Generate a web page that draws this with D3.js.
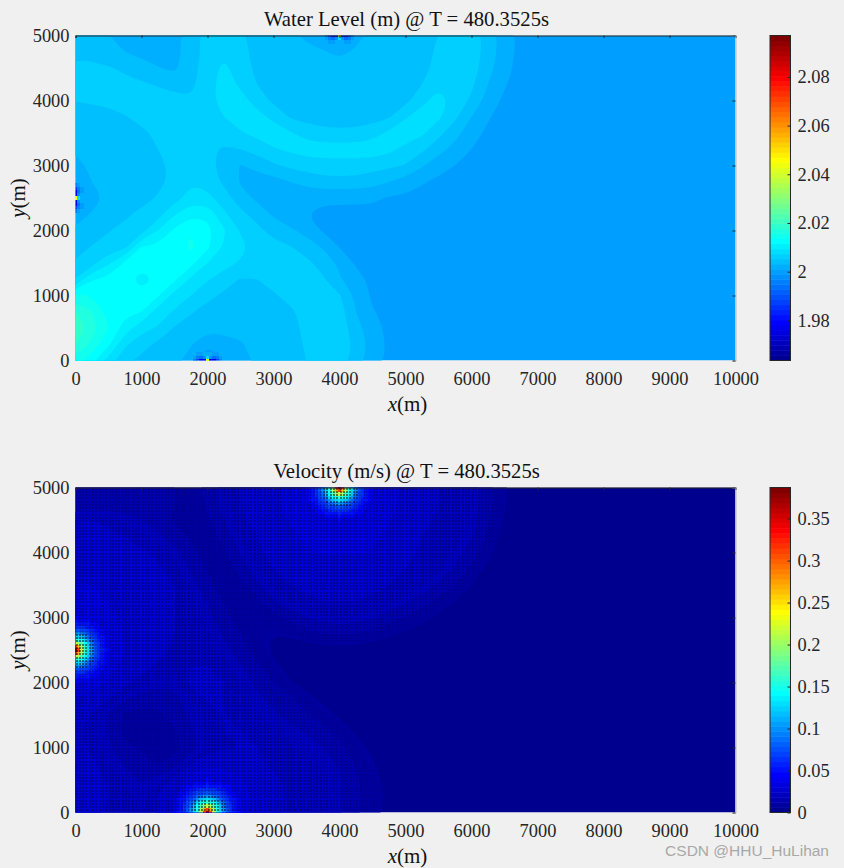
<!DOCTYPE html>
<html><head><meta charset="utf-8">
<script src="https://cdn.jsdelivr.net/npm/d3@7"></script>
<style>
html,body{margin:0;padding:0;background:#f0f0f0}
svg{display:block}
text{font-family:"Liberation Serif",serif;fill:#262626}
</style></head><body>
<svg id="c" width="844" height="868"></svg>
<script>
// ---- data ----
const xTicks=[0,1000,2000,3000,4000,5000,6000,7000,8000,9000,10000];
const yTicks=[0,1000,2000,3000,4000,5000];
const waterBarTicks=[1.98,2,2.02,2.04,2.06,2.08];
const speedBarTicks=[0,0.05,0.1,0.15,0.2,0.25,0.3,0.35];
const waterRange=[1.9635,2.097];
const speedRange=[0,0.387];
const gridSpacing=250;
const waterFlat=0.5, speedFlat=1;
// Water level, in colour steps above the level of the still right-hand region; rows run from y=5000 to y=0, columns from x=0 every 250 m
const waterRows=[
[2.5,2.3,2.0,1.7,1.5,1.5,1.7,2.6,3.4,3.5,3.1,2.8,2.6,2.5,1.6,1.3,0.5,1.5,2.5,2.6,2.6,2.7,3.0,3.6,3.5,2.7,1.5,0.8],
[2.7,2.5,2.3,2.0,1.7,1.5,1.6,2.6,3.3,3.6,3.2,2.8,2.6,2.6,2.5,2.1,1.7,2.2,2.6,2.6,2.6,2.8,3.1,3.6,3.5,2.6,1.4,0.7],
[3.3,3.3,3.1,2.8,2.4,2.05,1.8,2.7,3.4,4.3,3.4,2.8,2.6,2.5,2.5,2.5,2.5,2.5,2.5,2.5,2.6,2.8,3.2,3.8,3.5,2.4,1.3,0.7],
[3.3,3.4,3.4,3.3,3.15,2.9,2.6,2.8,3.5,4.5,3.8,3.0,2.6,2.5,2.5,2.5,2.5,2.5,2.5,2.5,2.5,3.0,3.8,3.8,3.2,2.0,1.1],
[3.05,3.2,3.3,3.4,3.5,3.5,3.4,3.1,3.6,4.5,4.5,3.5,2.8,2.5,2.5,2.5,2.5,2.5,2.5,2.5,2.7,3.7,4.4,3.7,2.8,1.6,0.8],
[2.2,2.4,2.6,2.95,3.3,3.5,3.6,3.6,3.7,4.0,4.5,4.4,3.7,2.9,2.6,2.5,2.5,2.5,2.5,2.9,3.9,4.5,4.2,3.2,2.0,1.1,0.6],
[2.2,2.2,2.3,2.5,2.8,3.2,3.5,3.6,3.6,3.8,3.9,4.3,4.6,4.1,3.6,3.3,3.2,3.3,3.6,4.2,4.6,4.2,3.3,2.4,1.4,0.8],
[2.2,2.2,2.2,2.3,2.6,3.0,3.3,3.4,3.3,2.8,3.0,3.4,3.9,4.2,4.5,4.5,4.5,4.5,4.6,4.3,3.7,3.2,2.4,1.6,1.0,0.6],
[1.7,2.2,2.2,2.2,2.4,2.8,3.2,3.4,3.3,2.6,1.95,2.3,2.85,3.2,3.4,3.6,3.6,3.6,3.4,3.2,2.95,2.1,1.4,1.0,0.6],
[1.0,2.0,2.2,2.2,2.4,2.8,3.2,3.9,3.6,2.8,1.9,1.5,1.6,2.0,2.4,2.6,2.7,2.6,2.4,2.0,1.6,1.1,0.8,0.6],
[0.2,1.6,2.2,2.3,2.6,3.1,3.6,4.4,4.3,3.5,2.4,1.8,1.5,1.3,1.2,1.15,1.2,1.2,1.2,0.9,0.8,0.65,0.55],
[1.5,2.1,2.4,2.8,3.3,3.6,4.9,5.8,5.8,4.2,3.3,2.6,1.85,1.3,1.0,0.8,0.75,0.7,0.65,0.6,0.55],
[2.2,2.5,2.95,3.3,3.6,5.0,6.2,6.9,6.3,5.1,3.9,3.3,2.6,2.2,1.6,0.9,0.7,0.6],
[2.4,3.05,3.3,3.7,6.0,6.2,6.4,7.3,6.2,4.9,4.3,3.6,3.4,3.05,2.6,1.85,0.95,0.7,0.55],
[3.2,3.6,4.8,6.2,6.4,6.3,6.2,6.3,5.0,4.3,3.9,3.6,3.5,3.4,3.2,2.7,1.8,0.85,0.6],
[4.0,5.9,6.3,6.4,5.6,6.2,6.2,4.8,4.1,3.6,2.9,3.0,3.3,3.3,3.3,3.1,2.1,1.4,0.75,0.55],
[7.5,6.8,6.4,6.3,6.3,6.1,4.6,4.0,3.3,2.8,2.5,2.6,2.9,3.3,3.4,3.4,3.1,1.8,0.8,0.55],
[9.0,8.0,6.7,6.3,6.0,4.5,3.9,3.1,2.6,2.4,2.4,2.4,2.5,2.8,3.4,3.6,3.5,2.0,1.1,0.6],
[10.2,8.6,7.0,5.5,4.4,3.9,2.9,2.5,2.4,2.3,2.3,2.3,2.3,2.4,3.4,3.7,3.7,2.3,1.5,0.7],
[9.0,7.7,6.2,4.2,3.3,2.8,2.5,2.1,1.0,1.6,1.9,2.3,2.3,2.4,3.2,3.6,3.7,2.7,1.6,0.8],
[7.8,6.3,4.6,3.2,2.8,2.5,2.4,1.5,0.2,1.0,1.5,2.3,2.4,2.6,3.0,3.6,3.7,2.5,1.5,0.8]
];
// Speed, in colour steps of the lower colour bar (1 = lowest band), same grid
const speedRows=[
[3,3,3,3,3,3,3,2.6,3.4,4.6,5,5.3,5.8,6.3,6.8,7.5,8,7.5,6.8,6.3,5.8,5.3,5,4.8,4.6,3.5,2.2,1.2],
[3.4,3.4,3.4,3.4,3.4,3.4,3,2.4,3.1,4.4,5,5.3,5.8,6.3,6.8,7.4,7.8,7.4,6.8,6.3,5.8,5.3,5,4.8,4.5,3.4,2.1,1.2],
[5,5,4.8,4.4,4,3.4,2.9,2.4,2.8,4,4.9,5.2,5.6,6.1,6.5,6.8,7,6.8,6.5,6.1,5.6,5.2,4.9,4.8,4.4,3.2,1.9,1.1],
[5.3,5.3,5.2,5,4.7,4.2,3.5,2.8,2.4,3.5,4.6,5,5.4,5.8,6.2,6.5,6.6,6.5,6.2,5.8,5.4,5,4.9,4.7,4.1,2.8,1.6],
[5.6,5.6,5.5,5.3,5.1,4.9,4.3,3.4,2.5,2.8,4.1,4.9,5.2,5.5,5.9,6.1,6.1,6.1,5.9,5.5,5.2,4.9,4.8,4.4,3.5,2.3,1.3],
[5.8,5.8,5.7,5.5,5.3,5.1,4.7,3.9,2.9,2.4,3.4,4.5,5,5.2,5.4,5.5,5.5,5.5,5.4,5.2,5,4.8,4.6,3.9,2.8,1.7,1.1],
[6.1,6,5.8,5.6,5.4,5.2,5,4.4,3.4,2.5,2.6,3.8,4.7,5,5.1,5.2,5.2,5.2,5.1,5,4.9,4.5,3.9,3,2,1.3],
[6.5,6.3,6,5.7,5.5,5.2,5,4.7,3.9,2.9,2.3,2.8,3.9,4.6,4.9,5,5,5,4.9,4.7,4.2,3.5,2.8,2,1.4],
[7,6.6,6.2,5.8,5.5,5.2,5,4.8,4.3,3.4,2.5,2.2,2.6,3.3,4,4.4,4.6,4.4,4.1,3.5,2.9,2.3,1.7,1.3],
[7.6,7.2,6.5,5.9,5.5,5.2,5,4.8,4.5,3.9,3,2.2,2,2.2,2.6,3,3.3,3,2.6,2.2,1.8,1.5,1.2],
[8,7.5,6.7,6,5.5,5.2,4.9,4.8,4.6,4.3,3.5,2.5,1.8,1.5,1.4,1.5,1.5,1.5,1.4,1.3,1.2,1.1],
[7.6,7,6.3,5.8,5.3,4.9,4.8,5,5,4.7,4.1,3.2,2.2,1.6,1.2,1.1],
[6.8,6.4,5.9,5.3,4.6,4.2,4.2,5.3,5.3,5,4.6,3.8,3,2.1,1.5,1.1],
[6,5.6,5,4.1,3.6,3.6,3.8,4.5,5.1,5,4.8,4.2,3.7,3.2,2.4,1.7,1.2],
[5.4,4.9,3.8,2.8,2.5,2.7,3.6,4.1,4.7,5,4.9,4.5,4.2,3.7,3.2,2.5,1.8,1.3,1.1],
[5.2,4.6,3.9,2.6,2.3,2.4,2.9,3.9,4.8,5,5,4.8,4.5,4.3,3.9,3.3,2.6,1.8,1.3,1.1],
[5.5,4.7,4.1,3.6,2.6,2.3,2.5,3.6,4.5,4.9,5,5,4.8,4.6,4.4,4,3.3,2.5,1.7,1.2],
[6,5.2,4.4,3.9,3.7,2.9,3.5,5,5.9,5.7,5.4,5.1,4.9,4.7,4.6,4.4,3.9,2.9,2.1,1.4,1.1],
[6.2,5.4,4.9,4.4,3.9,4.3,5.4,6.5,7,6.6,6.1,5.6,5.1,4.9,4.7,4.6,4.1,3.2,2.4,1.6,1.1],
[6,5.4,5,4.6,4.4,5,5.9,7,7.6,7.1,6.3,5.8,5.2,4.9,4.7,4.6,4.1,3.2,2.5,1.7,1.1],
[5.5,5.2,4.9,4.6,4.5,5.1,6,7.2,8,7.3,6.4,5.8,5.2,4.9,4.7,4.6,4.1,3.2,2.5,1.7,1.1]
];
// Point sources on the walls: position and inward direction
const sourceX=[2000,0,4000], sourceY=[0,2500,5000], inwardX=[0,1,0], inwardY=[1,0,-1];
// Colour index of the water-level star at each source: rows by depth from the wall, columns by offset along it (every 50 m)
const starCells=[
[40,8,8,12,16],
[22,17,15,16,18],
[19,19,18,18,19]];
// Colour index of the speed peak by distance from a source
const plumeDistance=[0,50,100,150,200,250,300,350,400,450,500];
const plumeIndex=[63,52,36,27,22,17,13,11,9.5,8.5,8];
// ---- layout ----
const W=[75.5,735.5], panelTop=[35.5,487.5], panelH=325, barX=[770,790.5];
const svg=d3.select('#c');
const defs=svg.append('defs');
const jet=d3.range(1,65).map(i=>{
  // MATLAB jet(64): four-step ramps
  const r=Math.max(0,Math.min(1,Math.min((i-24)/16,(72-i)/16)));
  const g=Math.max(0,Math.min(1,Math.min((i-8)/16,(56-i)/16)));
  const b=Math.max(0,Math.min(1,Math.min((i+8)/16,(40-i)/16)));
  return d3.rgb(r*255,g*255,b*255).formatHex();
});
const pad=(rows,flat)=>rows.map(r=>d3.range(41).map(k=>k<r.length?r[k]:flat));
const xScale=d3.scaleLinear().domain([0,10000]).range(W);

function field(g,rows,range,offset,yScale){
  const step=(range[1]-range[0])/64;
  const vals=rows.flat().map(s=>range[0]+(offset+s)*step);
  const first=Math.floor(offset+d3.min(rows.flat()));
  const thresholds=d3.range(first+1,64).map(i=>range[0]+i*step);
  const line=d3.line().curve(d3.curveBasisClosed)
    .x(p=>xScale((p[0]-0.5)*gridSpacing)).y(p=>yScale(5000-(p[1]-0.5)*gridSpacing));
  g.append('rect').attr('x',W[0]).attr('width',W[1]-W[0]).attr('y',yScale(5000)).attr('height',panelH).attr('fill',jet[first]);
  const cs=d3.contours().size([41,21]).thresholds(thresholds)(vals);
  g.selectAll('path.band').data(cs).join('path').attr('class','band')
    .attr('fill-rule','evenodd')
    .attr('d',d=>d.coordinates.map(poly=>poly.map(ring=>line(ring.slice(0,-1))).join('')).join(''))
    .attr('fill',d=>jet[Math.round((d.value-range[0])/step)]);
}
function cell(g,yScale,xc,yc,color){
  const hw=25;
  g.append('rect').attr('x',xScale(xc-hw)).attr('y',yScale(yc+hw))
   .attr('width',xScale(xc+hw)-xScale(xc-hw)).attr('height',yScale(yc-hw)-yScale(yc+hw))
   .attr('fill',color).attr('shape-rendering','crispEdges');
}
function frame(i,title,barRange,barTicks){
  const top=panelTop[i], yScale=d3.scaleLinear().domain([0,5000]).range([top+panelH,top]);
  const ax=svg.append('g').attr('transform',`translate(0,${top+panelH})`)
    .call(d3.axisBottom(xScale).tickValues(xTicks).tickFormat(d3.format('d')).tickSize(0).tickPadding(11));
  ax.select('.domain').remove();
  const ay=svg.append('g').attr('transform',`translate(${W[0]},0)`)
    .call(d3.axisLeft(yScale).tickValues(yTicks).tickFormat(d3.format('d')).tickSize(0).tickPadding(6));
  ay.select('.domain').remove();
  const tt=svg.append('g').attr('transform',`translate(0,${top})`).call(d3.axisTop(xScale).tickValues(xTicks).tickFormat('').tickSize(-2.5));
  tt.selectAll('path,line').attr('stroke','#262626');
  const rr=svg.append('g').attr('transform',`translate(${W[1]},0)`).call(d3.axisRight(yScale).tickValues(yTicks).tickFormat('').tickSize(-3));
  rr.select('.domain').attr('stroke','#b8b8b8');
  rr.selectAll('line').attr('stroke','#262626');
  svg.append('text').attr('x',(W[0]+W[1])/2+1).attr('y',top-9.5).attr('text-anchor','middle').attr('font-size',20.7).style('fill','#111').text(title);
  const xl=svg.append('text').attr('x',(W[0]+W[1])/2+2).attr('y',top+panelH+50).attr('text-anchor','middle').attr('font-size',21).style('fill','#111');
  xl.append('tspan').attr('font-style','italic').text('x');xl.append('tspan').text('(m)');
  const yl=svg.append('text').attr('transform',`translate(25,${top+panelH/2}) rotate(-90)`).attr('text-anchor','middle').attr('font-size',21).style('fill','#111');
  yl.append('tspan').attr('font-style','italic').text('y');yl.append('tspan').text('(m)');
  const bs=d3.scaleLinear().domain(barRange).range([top+panelH,top]);
  const bar=svg.append('g');
  const st=(barRange[1]-barRange[0])/64;
  bar.selectAll('rect').data(d3.range(64)).join('rect').attr('x',barX[0]).attr('width',barX[1]-barX[0])
    .attr('y',d=>bs(barRange[0]+(d+1)*st)).attr('height',d=>bs(barRange[0]+d*st)-bs(barRange[0]+(d+1)*st)+0.5)
    .attr('fill',d=>jet[d]);
  bar.append('rect').attr('x',barX[0]).attr('width',barX[1]-barX[0]).attr('y',top).attr('height',panelH)
    .attr('fill','none').attr('stroke','#262626').attr('stroke-width',1);
  const ba=svg.append('g').attr('transform',`translate(${barX[1]},0)`).call(d3.axisRight(bs).tickValues(barTicks).tickFormat(d=>String(d)).tickSize(-3).tickPadding(7));
  ba.select('.domain').remove();
  ba.selectAll('line').attr('stroke','#262626');
  svg.selectAll('.tick text').attr('font-size',18.4).attr('font-family','Liberation Serif').attr('fill','#262626');
}
defs.append('clipPath').attr('id','p0').append('rect').attr('x',W[0]).attr('y',panelTop[0]).attr('width',W[1]-W[0]).attr('height',panelH);
defs.append('clipPath').attr('id','p1').append('rect').attr('x',W[0]).attr('y',panelTop[1]).attr('width',W[1]-W[0]).attr('height',panelH);

// ---- water level panel ----
const g0=svg.append('g').attr('clip-path','url(#p0)');
const y0=d3.scaleLinear().domain([0,5000]).range([panelTop[0]+panelH,panelTop[0]]);
field(g0,pad(waterRows,waterFlat),waterRange,17,y0);
sourceX.forEach((sx,n)=>{
  const tx=inwardY[n]?1:0, ty=inwardX[n]?1:0;
  starCells.forEach((row,d)=>row.forEach((c,a)=>{
    [a,-a].forEach(o=>{
      cell(g0,y0,sx+inwardX[n]*d*50+tx*o*50,sourceY[n]+inwardY[n]*d*50+ty*o*50,jet[c-1]);
    });
  }));
});
// ---- speed panel ----
const g1=svg.append('g').attr('clip-path','url(#p1)');
const y1=d3.scaleLinear().domain([0,5000]).range([panelTop[1]+panelH,panelTop[1]]);
const speedGrid=pad(speedRows,speedFlat);
field(g1,speedGrid,speedRange,-1,y1);
const plume=d3.scaleLinear().domain(plumeDistance).range(plumeIndex).clamp(true);
const nodes=[];
for(let i=0;i<=200;i++)for(let j=0;j<=100;j++)nodes.push([i*50,j*50]);
const localSpeed=([x,y])=>{
  const fx=x/gridSpacing, fy=20-y/gridSpacing;
  const i=Math.min(39,Math.floor(fx)), j=Math.min(19,Math.floor(fy)), a=fx-i, b=fy-j;
  return d3.interpolate(d3.interpolate(speedGrid[j][i],speedGrid[j][i+1])(a),
    d3.interpolate(speedGrid[j+1][i],speedGrid[j+1][i+1])(a))(b);
};
nodes.forEach(([x,y])=>{
  sourceX.forEach((sx,n)=>{
    const d=Math.hypot(x-sx,y-sourceY[n]);
    if(d<=500&&plume(d)>localSpeed([x,y])) cell(g1,y1,x,y,jet[Math.round(plume(d))-1]);
  });
});
// mesh marks whose darkness follows the local speed
const markGroups=[{min:2.2,max:3,o:0.07},{min:3,max:4.5,o:0.17},{min:4.5,max:99,o:0.25}];
const nearest=n=>d3.min(sourceX.map((sx,k)=>Math.hypot(n[0]-sx,n[1]-sourceY[k])));
markGroups.forEach(m=>{
  const p=d3.path();
  nodes.forEach(n=>{
    const v=localSpeed(n);
    if(nearest(n)<300||v<m.min||v>=m.max)return;
    p.rect(Math.round(xScale(n[0])),Math.round(y1(n[1])),2,2);
  });
  g1.append('path').attr('d',p.toString()).attr('fill','#000').attr('opacity',m.o).attr('shape-rendering','crispEdges');
});
const hot=d3.path();
nodes.forEach(n=>{
  if(nearest(n)<300) hot.rect(Math.round(xScale(n[0])),Math.round(y1(n[1])),2,2);
});
g1.append('path').attr('d',hot.toString()).attr('fill','#000').attr('opacity',0.5).attr('shape-rendering','crispEdges');

frame(0,'Water Level (m) @ T = 480.3525s',waterRange,waterBarTicks);
frame(1,'Velocity (m/s) @ T = 480.3525s',speedRange,speedBarTicks);

svg.append('text').attr('x',829).attr('y',856).attr('text-anchor','end').attr('font-size',15.5)
  .style('font-family','"Liberation Sans",sans-serif').style('fill','#a8a8a8').text('CSDN @HHU_HuLihan');
</script></body></html>
